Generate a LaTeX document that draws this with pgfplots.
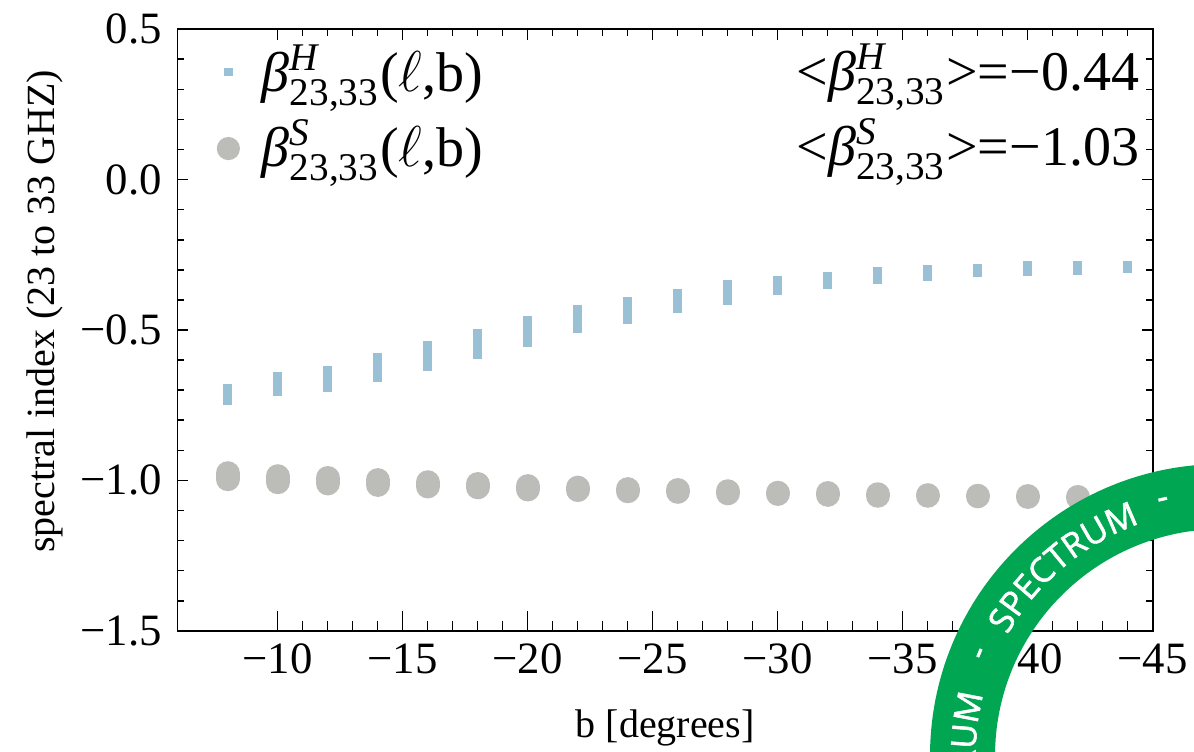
\documentclass[border=0pt]{standalone}
\usepackage{amsmath}
\usepackage{fontspec}
\setmainfont{Liberation Serif}
\newfontfamily\ringfont[FakeBold=1.5]{Open Sans}
\usepackage{pgfplots}
\pgfplotsset{compat=1.18}
\usetikzlibrary{decorations.text}
\definecolor{hblue}{RGB}{153,192,212}
\definecolor{sgrey}{RGB}{188,189,184}
\definecolor{ringgreen}{RGB}{0,166,81}
\newcommand{\tickfont}{\fontsize{11.2}{13}\selectfont}
\newcommand{\labfont}{\fontsize{11.8}{14}\selectfont}
\newcommand{\legfont}{\fontsize{14}{16}\selectfont}
\begin{document}
\begin{tikzpicture}
\begin{axis}[
  scale only axis, width=243.75pt, height=150.4pt,
  at={(0pt,0pt)}, anchor=south west,
  x dir=reverse, xmin=-45, xmax=-6, ymin=-1.5, ymax=0.5,
  xtick={-10,-15,-20,-25,-30,-35,-40,-45},
  xticklabels={−10,−15,−20,−25,−30,−35,−40,−45},
  minor x tick num=4,
  ytick={-1.5,-1,-0.5,0,0.5},
  yticklabels={−1.5,−1.0,−0.5,0.0,0.5},
  minor y tick num=4,
  tick pos=both, tick align=inside,
  major tick length=2.7pt, minor tick length=1.6pt,
  every tick/.style={black, line width=0.4pt},
  axis line style={line width=0.45pt},
  tick label style={font=\tickfont},
  xticklabel style={anchor=base, inner sep=0pt, yshift=-10.6pt},
  yticklabel style={anchor=east, inner sep=0pt, xshift=-3.7pt},
  xlabel={b [degrees]}, ylabel={spectral index (23 to 33 GHZ)},
  label style={font=\labfont},
  every axis x label/.style={at={(axis description cs:0.5,-0.178)}, anchor=base},
  every axis y label/.style={at={(axis description cs:-0.136,0.531)}, anchor=center, rotate=90},
  legend style={at={(axis description cs:0.0398,0.9635)}, anchor=north west,
    draw=none, fill=none, inner sep=0pt, outer sep=0pt,
    row sep=4.75pt, column sep=5.4pt, font=\legfont,
    nodes={inner sep=0pt, text height=10pt, text depth=4pt},
    cells={anchor=base west}},
  unbounded coords=jump,
]
% H series: vertical extent of points at each b
\addplot[forget plot, hblue, line width=2.33pt, line cap=butt, mark=none] coordinates {
(-8,-0.678) (-8,-0.749) (-8,nan)
(-10,-0.639) (-10,-0.719) (-10,nan)
(-12,-0.618) (-12,-0.706) (-12,nan)
(-14,-0.578) (-14,-0.672) (-14,nan)
(-16,-0.535) (-16,-0.636) (-16,nan)
(-18,-0.498) (-18,-0.596) (-18,nan)
(-20,-0.452) (-20,-0.556) (-20,nan)
(-22,-0.418) (-22,-0.509) (-22,nan)
(-24,-0.390) (-24,-0.480) (-24,nan)
(-26,-0.364) (-26,-0.442) (-26,nan)
(-28,-0.333) (-28,-0.416) (-28,nan)
(-30,-0.319) (-30,-0.383) (-30,nan)
(-32,-0.307) (-32,-0.364) (-32,nan)
(-34,-0.292) (-34,-0.347) (-34,nan)
(-36,-0.285) (-36,-0.337) (-36,nan)
(-38,-0.280) (-38,-0.323) (-38,nan)
(-40,-0.272) (-40,-0.320) (-40,nan)
(-42,-0.272) (-42,-0.317) (-42,nan)
(-44,-0.272) (-44,-0.310)
};
% S series: centres of the stacked discs at each b
\addplot[forget plot, sgrey, line width=6pt, line cap=round, mark=none] coordinates {
(-8,-0.976) (-8,-0.996) (-8,nan)
(-10,-0.986) (-10,-1.006) (-10,nan)
(-12,-0.992) (-12,-1.010) (-12,nan)
(-14,-0.999) (-14,-1.015) (-14,nan)
(-16,-1.006) (-16,-1.020) (-16,nan)
(-18,-1.012) (-18,-1.023) (-18,nan)
(-20,-1.019) (-20,-1.030) (-20,nan)
(-22,-1.024) (-22,-1.032) (-22,nan)
(-24,-1.029) (-24,-1.036) (-24,nan)
(-26,-1.032) (-26,-1.038) (-26,nan)
(-28,-1.036) (-28,-1.043) (-28,nan)
(-30,-1.041) (-30,-1.045) (-30,nan)
(-32,-1.042) (-32,-1.048) (-32,nan)
(-34,-1.046) (-34,-1.051) (-34,nan)
(-36,-1.049) (-36,-1.051) (-36,nan)
(-38,-1.051) (-38,-1.053) (-38,nan)
(-40,-1.052) (-40,-1.055) (-40,nan)
(-42,-1.055) (-42,-1.057) (-42,nan)
(-44,-1.058) (-44,-1.061)
};
\addlegendimage{legend image code/.code={\fill[hblue, draw=none] (-1.1pt,3.7pt) rectangle (1.1pt,5.9pt); \path[draw=none, fill=none] (-3pt,0pt) rectangle (3pt,0.1pt);}}
\addlegendentry{\textit{β}$^{\textit{H}}_{\text{23,33}}$($\ell$,b)}
\addlegendimage{legend image code/.code={\fill[sgrey, draw=none] (0pt,4.4pt) circle[radius=2.9pt]; \path[draw=none, fill=none] (-3pt,0pt) rectangle (3pt,0.1pt);}}
\addlegendentry{\textit{β}$^{\textit{S}}_{\text{23,33}}$($\ell$,b)}
\node[anchor=base east, inner sep=0pt, font=\legfont] at (axis description cs:0.987,0.8988) {<\textit{β}$^{\textit{H}}_{\text{23,33}}$>=−0.44};
\node[anchor=base east, inner sep=0pt, font=\legfont] at (axis description cs:0.987,0.774) {<\textit{β}$^{\textit{S}}_{\text{23,33}}$>=−1.03};
\end{axis}
% longer bottom ticks
\begin{axis}[
  scale only axis, width=243.75pt, height=150.4pt,
  at={(0pt,0pt)}, anchor=south west,
  x dir=reverse, xmin=-45, xmax=-6, ymin=-1.5, ymax=0.5,
  axis x line*=bottom, hide y axis,
  x axis line style={-, line width=0.45pt},
  xtick={-10,-15,-20,-25,-30,-35,-40,-45}, xticklabels={},
  minor x tick num=4,
  tick align=inside, major tick length=5pt, minor tick length=2.5pt,
  every tick/.style={black, line width=0.4pt},
]
\addplot[draw=none, mark=none] coordinates {(-10,0)};
\end{axis}
% watermark ring
\begin{scope}[shift={(261.1pt,-31.3pt)}]
\fill[ringgreen, even odd rule] (0,0) circle[radius=73pt] (0,0) circle[radius=56.75pt];
\path[decorate, decoration={text along path, text align=center,
  text={|\ringfont\fontsize{8.6}{10}\selectfont\color{white}|SPECTRUM}}]
  (151:61.6pt) arc[start angle=151, end angle=109, radius=61.6pt];
\path[decorate, decoration={text along path, text align=center,
  text={|\ringfont\fontsize{8.6}{10}\selectfont\color{white}|SPECTRUM}}]
  (207:61.6pt) arc[start angle=207, end angle=165, radius=61.6pt];
\node[white, font=\ringfont\fontsize{8.6}{10}\selectfont, rotate=67, inner sep=0pt] at (157:64.9pt) {-};
\node[white, font=\ringfont\fontsize{8.6}{10}\selectfont, rotate=13, inner sep=0pt] at (103:64.9pt) {-};
\end{scope}
\pgfresetboundingbox
\useasboundingbox (-44.4pt,-30.1pt) rectangle (254.1pt,157.7pt);
\end{tikzpicture}
\end{document}
